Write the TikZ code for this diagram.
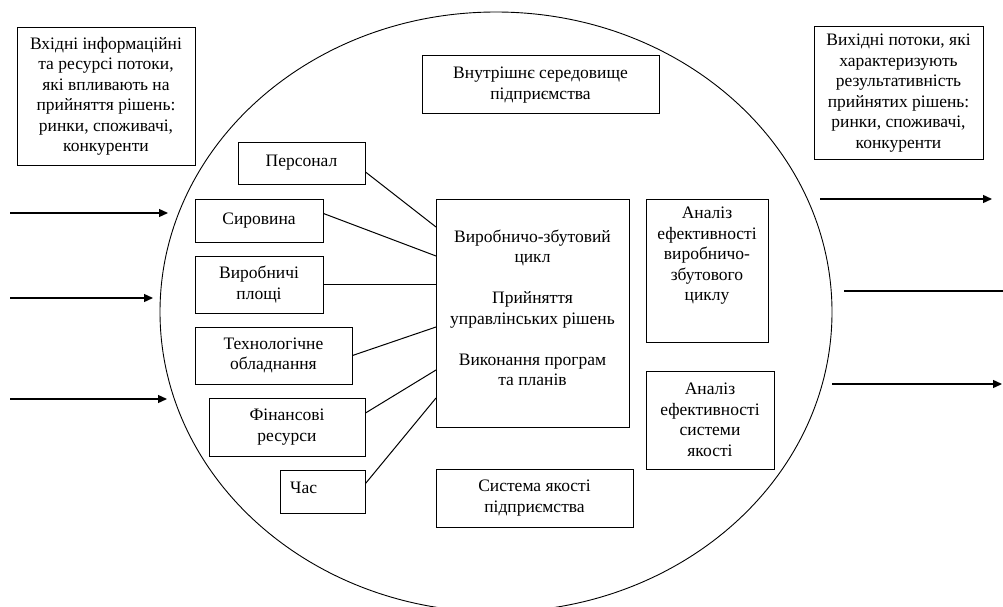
\documentclass[tikz,border=0pt]{standalone}
\usepackage{fontspec}
\setmainfont{Liberation Serif}
\usetikzlibrary{arrows.meta,calc}
\newcommand\dfont{\fontsize{17.5}{20.5}\selectfont}
\begin{document}
\begin{tikzpicture}[x=1pt,y=-1pt,
  box/.style={draw,line width=1pt,inner sep=0pt,align=center,font=\dfont},
  txt/.style={inner sep=0pt,align=center,font=\dfont},
  link/.style={line width=1pt},
  flow/.style={line width=1.3pt,-{Triangle[length=9pt,width=8pt]}},
  flowplain/.style={line width=1.3pt}]
\useasboundingbox (0,0) rectangle (1003,607);
\begin{scope}
  \clip (0,0) rectangle (1003,607);
  \draw[line width=0.9pt] (496,312) ellipse [x radius=336pt, y radius=300pt];
\end{scope}

% outside boxes
\node[box,minimum width=178pt,minimum height=137pt] (inp) at (106,96.5)
  {Вхідні інформаційні\\та ресурсі потоки,\\які впливають на\\прийняття рішень:\\ринки, споживачі,\\конкуренти};
\node[box,minimum width=169pt,minimum height=132pt] (out) at (898.5,93)
  {Вихідні потоки, які\\характеризують\\результативність\\прийнятих рішень:\\ринки, споживачі,\\конкуренти};

% inner boxes
\node[box,minimum width=237pt,minimum height=58pt] (vnut) at (540.5,85)
  {Внутрішнє середовище\\підприємства};
\node[box,minimum width=127pt,minimum height=42pt] (pers) at (301.5,163) {Персонал};
\node[box,minimum width=128pt,minimum height=43pt] (sir) at (259,220.5) {Сировина};
\node[box,minimum width=128pt,minimum height=57pt] (vyr) at (259,284.5) {Виробничі\\площі};
\node[box,minimum width=157pt,minimum height=57pt] (tech) at (273.5,355.5) {Технологічне\\обладнання};
\node[box,minimum width=156pt,minimum height=58pt] (fin) at (287,427) {Фінансові\\ресурси};
\node[box,minimum width=85pt,minimum height=43pt] (chas) at (322.5,491.5) {};
\node[txt,anchor=west] (chast) at (290,488) {Час};

\node[box,minimum width=193pt,minimum height=228pt] (cen) at (532.5,313) {};
\node[txt] (cent) at (532.5,308)
  {Виробничо-збутовий\\цикл\\[20.5pt]Прийняття\\управлінських рішень\\[20.5pt]Виконання програм\\та планів};

\node[box,minimum width=122pt,minimum height=143pt] (an1) at (707,270.5) {};
\node[txt] (an1t) at (707,256)
  {Аналіз\\ефективності\\виробничо-\\збутового\\циклу};
\node[box,minimum width=128pt,minimum height=98pt] (an2) at (710,420)
  {Аналіз\\ефективності\\системи\\якості};
\node[box,minimum width=197pt,minimum height=58pt] (syst) at (534.5,498)
  {Система якості\\підприємства};

% connection points on the central box
\coordinate (c1) at (436,227);
\coordinate (c2) at (436,256);
\coordinate (c3) at (436,284);
\coordinate (c4) at (436,327);
\coordinate (c5) at (436,370);
\coordinate (c6) at (436,398);

\draw[link] ($(pers.east)+(0,9)$) -- (c1);
\draw[link] ($(sir.east)+(0,-7)$) -- (c2);
\draw[link] (vyr.east |- c3) -- (c3);
\draw[link] (tech.east) -- (c4);
\draw[link] ($(fin.east)+(0,-14)$) -- (c5);
\draw[link] ($(chas.east)+(0,-8)$) -- (c6);

% input flows
\coordinate (i1a) at (10,213);  \coordinate (i1b) at (168,213);
\coordinate (i2a) at (10,298);  \coordinate (i2b) at (153,298);
\coordinate (i3a) at (10,399);  \coordinate (i3b) at (167,399);
\draw[flow] (i1a) -- (i1b);
\draw[flow] (i2a) -- (i2b);
\draw[flow] (i3a) -- (i3b);

% output flows
\coordinate (o1a) at (820,199);  \coordinate (o1b) at (992,199);
\coordinate (o2a) at (844,291);  \coordinate (o2b) at (1003,291);
\coordinate (o3a) at (832,384);  \coordinate (o3b) at (1002,384);
\draw[flow] (o1a) -- (o1b);
\draw[flowplain] (o2a) -- (o2b);
\draw[flow] (o3a) -- (o3b);
\end{tikzpicture}
\end{document}
